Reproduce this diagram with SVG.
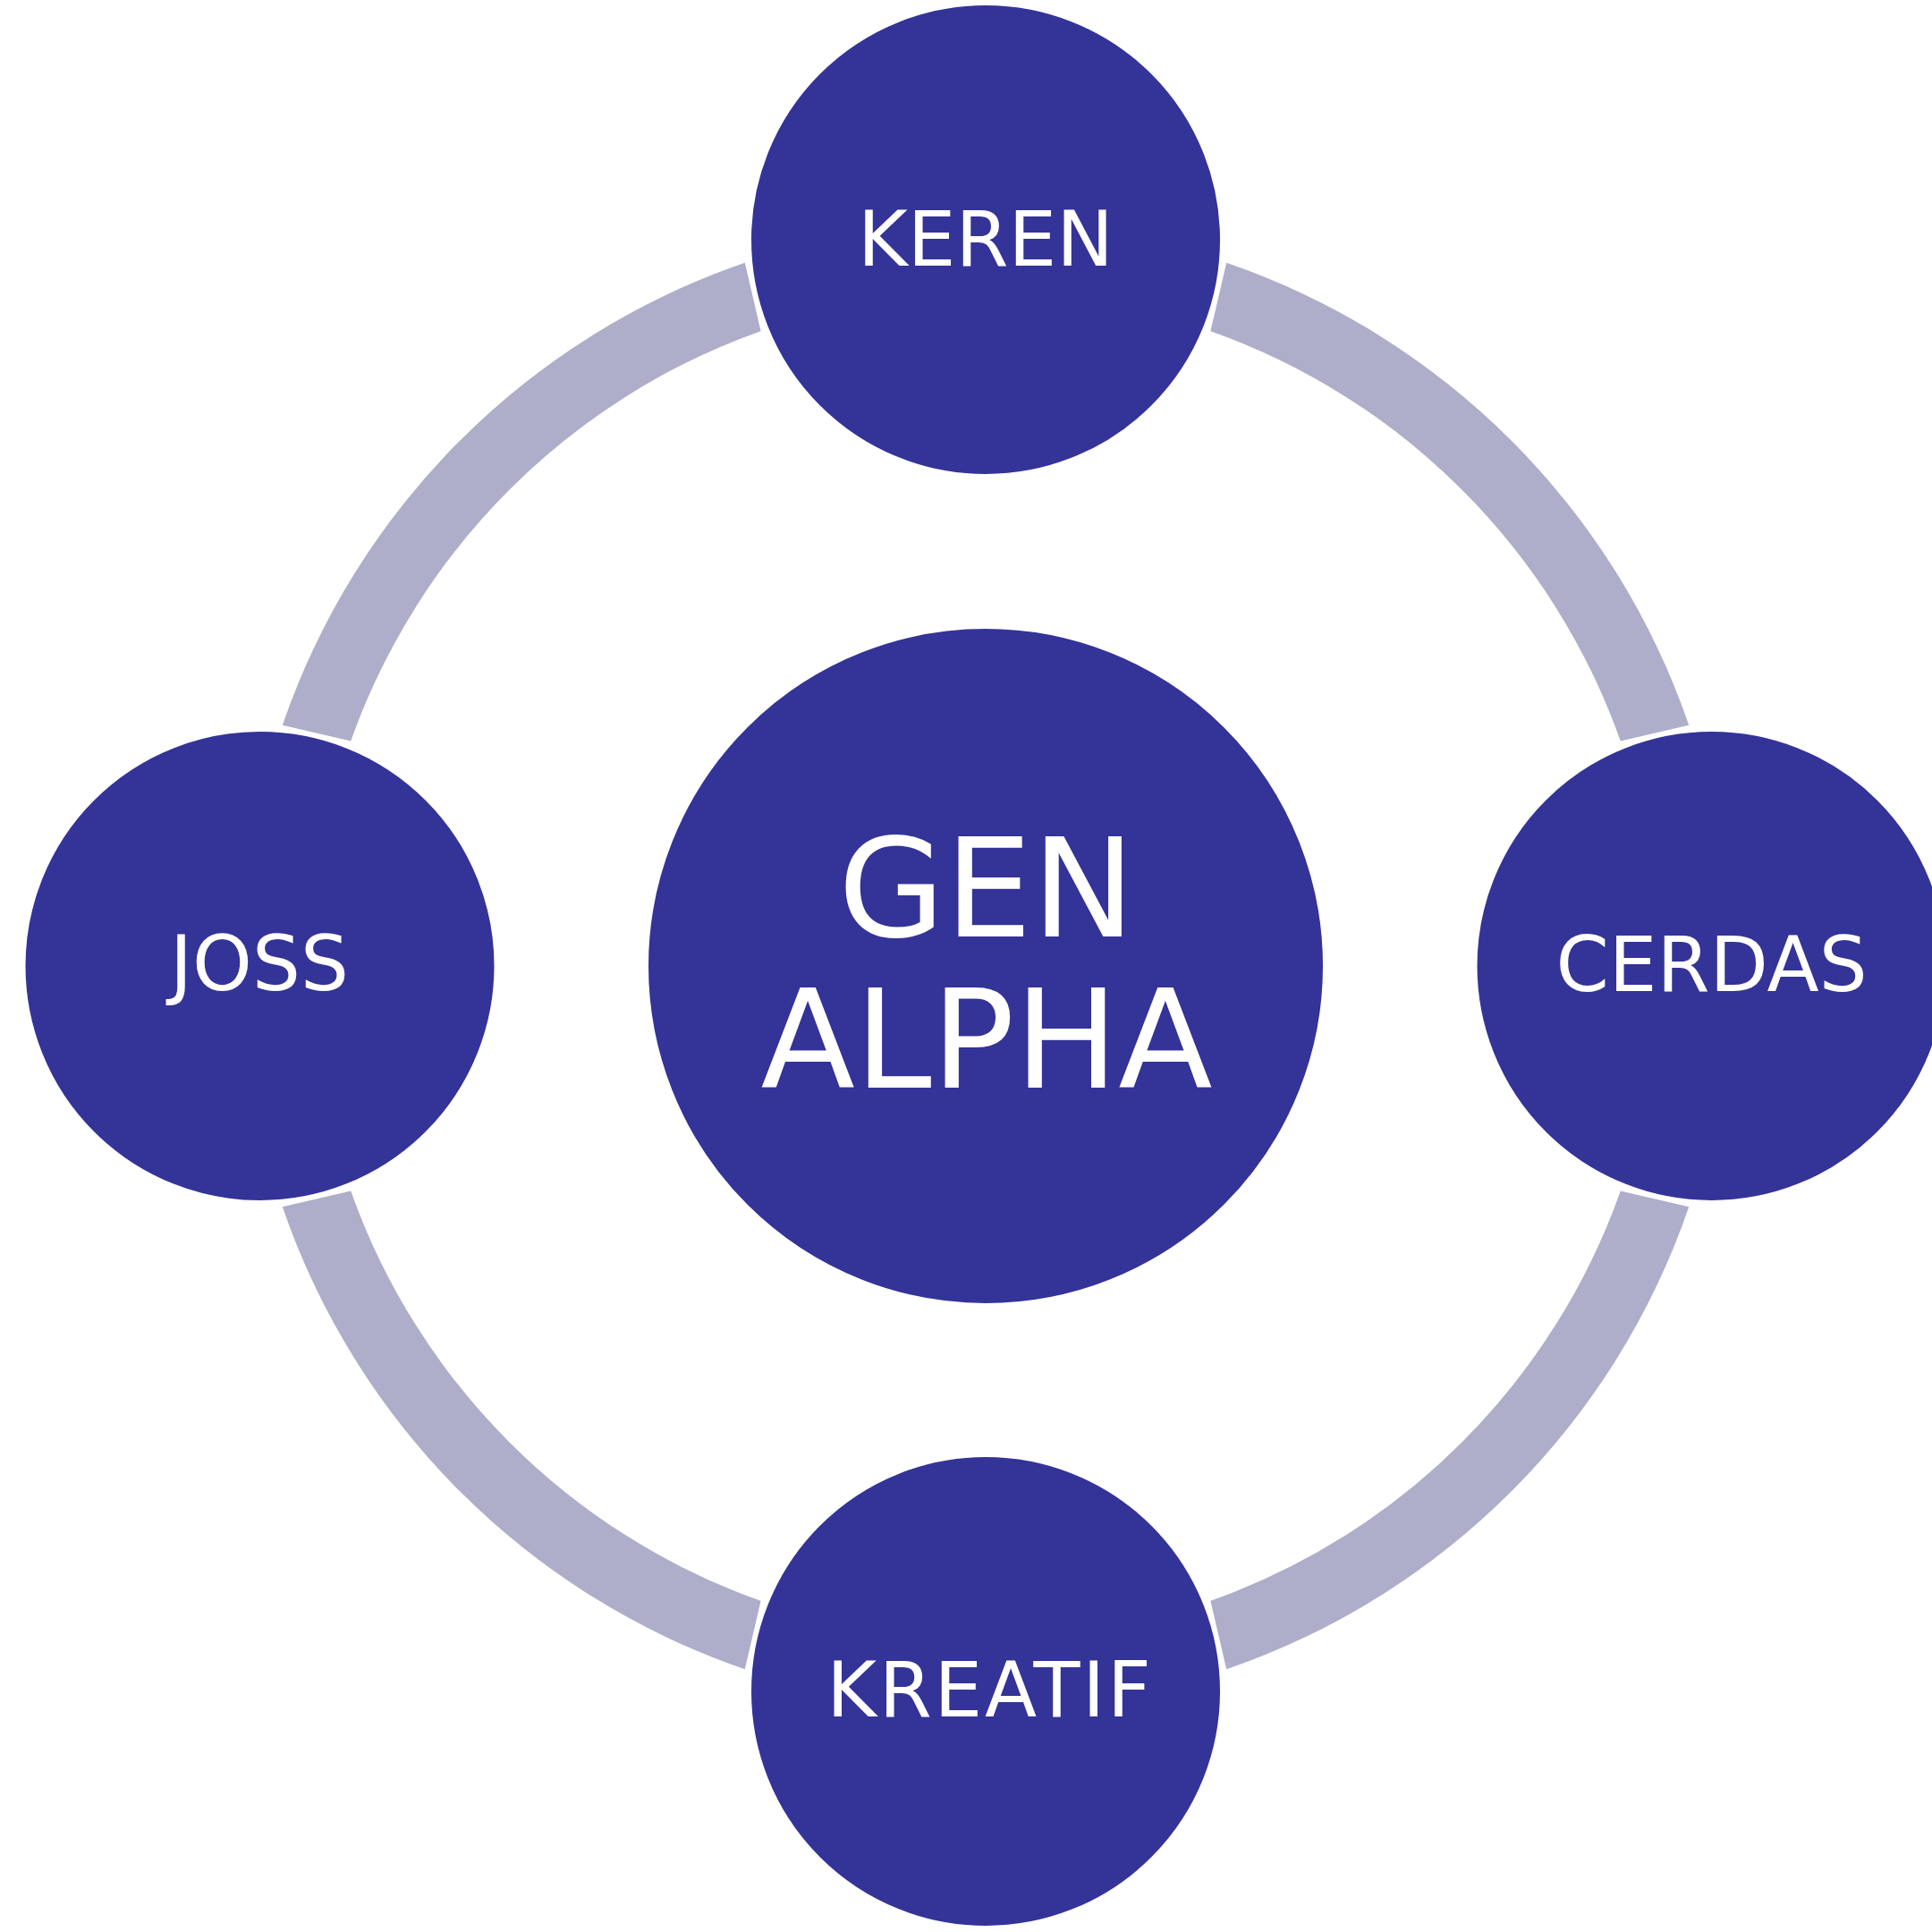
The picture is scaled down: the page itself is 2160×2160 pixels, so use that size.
<svg xmlns="http://www.w3.org/2000/svg" width="2160" height="2160" viewBox="0 0 2160 2160">
<style>
.arc{fill:#AEAECA;stroke:none}
.node{fill:#343398;stroke:#FFFFFF;stroke-width:4}
.lbl{font-family:"DejaVu Sans","Liberation Sans",sans-serif;fill:#FFFFFF;text-anchor:middle}
.small{font-size:85px}
.big{font-size:154px}
</style>
<rect width="2160" height="2160" fill="#FFFFFF"/>
<g id="connectors">
<path class="arc" d="M 315.8 810.8 A 831 831 0 0 1 832.8 293.8 L 850.6 370.2 A 753 753 0 0 0 392.2 828.6 Z"/>
<path class="arc" d="M 1371.2 293.8 A 831 831 0 0 1 1888.2 810.8 L 1811.8 828.6 A 753 753 0 0 0 1353.4 370.2 Z"/>
<path class="arc" d="M 1888.2 1349.2 A 831 831 0 0 1 1371.2 1866.2 L 1353.4 1789.8 A 753 753 0 0 0 1811.8 1331.4 Z"/>
<path class="arc" d="M 832.8 1866.2 A 831 831 0 0 1 315.8 1349.2 L 392.2 1331.4 A 753 753 0 0 0 850.6 1789.8 Z"/>
</g>
<g id="center">
<circle class="node" cx="1102" cy="1080" r="379"/>
<text class="lbl big" x="1103" y="1047">GEN</text>
<text class="lbl big" x="1103" y="1216">ALPHA</text>
</g>
<g id="keren">
<circle class="node" cx="1102" cy="268" r="264"/>
<text class="lbl small" x="1102" y="297">KEREN</text>
</g>
<g id="cerdas">
<circle class="node" cx="1913.5" cy="1080" r="264"/>
<text class="lbl small" x="1913.5" y="1108">CERDAS</text>
</g>
<g id="kreatif">
<circle class="node" cx="1102" cy="1891" r="264"/>
<text class="lbl small" x="1107" y="1919" letter-spacing="2.8">KREATIF</text>
</g>
<g id="joss">
<circle class="node" cx="290.5" cy="1080" r="264"/>
<text class="lbl small" x="290" y="1107">JOSS</text>
</g>
</svg>
